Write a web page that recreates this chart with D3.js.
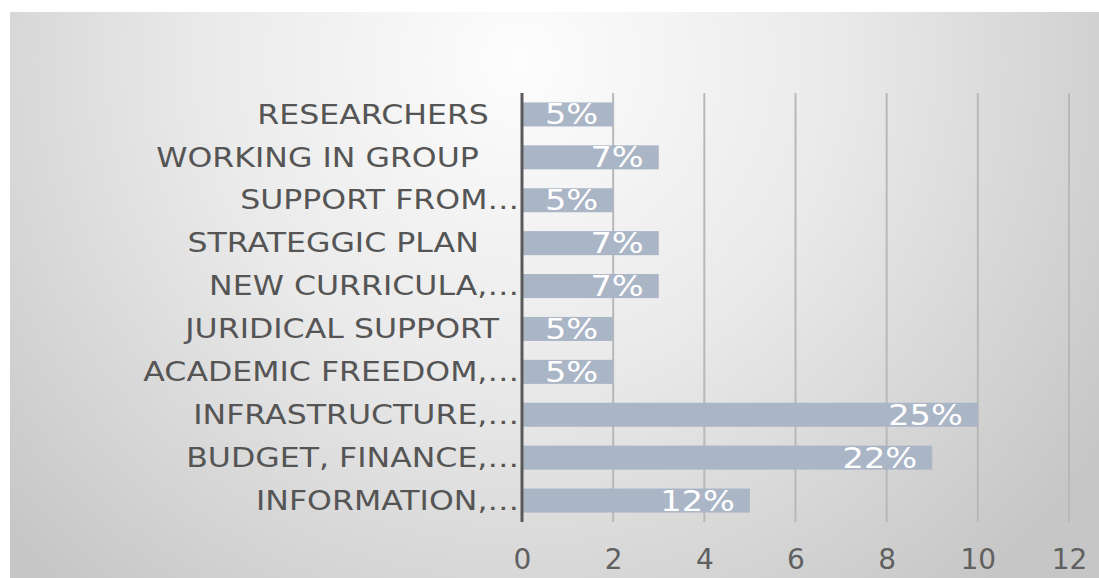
<!DOCTYPE html>
<html><head><meta charset="utf-8">
<script src="https://cdn.jsdelivr.net/npm/d3@7"></script>
<style>html,body{margin:0;padding:0;background:#fff;overflow:hidden}</style>
</head><body>
<svg id="chart" width="1099" height="578"></svg>
<script>
const NB = "\u00a0";
const categories = ["RESEARCHERS" + NB + NB + NB, "WORKING IN GROUP" + NB + NB + NB + NB, "SUPPORT FROM…", "STRATEGGIC PLAN" + NB + NB + NB + NB, "NEW CURRICULA,…", "JURIDICAL SUPPORT" + NB + NB, "ACADEMIC FREEDOM,…", "INFRASTRUCTURE,…", "BUDGET, FINANCE,…", "INFORMATION,…"];
const values = [2, 3, 2, 3, 3, 2, 2, 10, 9, 5];
const valueLabels = ["5%", "7%", "5%", "7%", "7%", "5%", "5%", "25%", "22%", "12%"];
const xTicks = [0, 2, 4, 6, 8, 10, 12];

const svg = d3.select("#chart");
const defs = svg.append("defs");
const rg = defs.append("radialGradient").attr("id","bg")
  .attr("gradientUnits","userSpaceOnUse").attr("cx",520).attr("cy",60).attr("r",700)
  .attr("fx",520).attr("fy",60);
rg.append("stop").attr("offset","0%").attr("stop-color","#fdfdfd");
rg.append("stop").attr("offset","45%").attr("stop-color","#eaeaea");
rg.append("stop").attr("offset","100%").attr("stop-color","#c6c6c6");
svg.append("rect").attr("x",10).attr("y",12).attr("width",1089).attr("height",566).attr("fill","url(#bg)");

const x = d3.scaleLinear().domain([0,12]).range([522,1069]);
const y = d3.scaleBand().domain(categories).range([93,522]).paddingInner(0.44).paddingOuter(0.22);

// gridlines
svg.append("g").selectAll("line").data(xTicks.filter(t=>t>0)).join("line")
  .attr("x1",d=>x(d)).attr("x2",d=>x(d)).attr("y1",93).attr("y2",522)
  .attr("stroke","#b8b8b8").attr("stroke-width",2);

// bars
svg.append("g").selectAll("rect").data(values).join("rect")
  .attr("x",x(0)).attr("y",(d,i)=>y(categories[i]))
  .attr("width",d=>x(d)-x(0)).attr("height",y.bandwidth())
  .attr("fill","#aab5c6");

// value labels
svg.append("g").selectAll("text").data(values).join("text")
  .attr("transform",(d,i)=>`translate(${x(d)-15},${y(categories[i])+y.bandwidth()/2}) scale(1.2,1)`)
  .attr("text-anchor","end").attr("dominant-baseline","central")
  .attr("font-family","DejaVu Sans, sans-serif").attr("font-size",28)
  .attr("fill","#ffffff").text((d,i)=>valueLabels[i]);

// vertical axis line
svg.append("line").attr("x1",x(0)).attr("x2",x(0)).attr("y1",93).attr("y2",522)
  .attr("stroke","#5a5a5a").attr("stroke-width",3);

// category labels
svg.append("g").selectAll("text").data(categories).join("text")
  .attr("transform",d=>`translate(519,${y(d)+y.bandwidth()/2}) scale(1.17,1)`)
  .attr("text-anchor","end").attr("dominant-baseline","central")
  .attr("font-family","DejaVu Sans, sans-serif").attr("font-size",27)
  .attr("fill","#555555").text(d=>d);

// x tick labels
const xAxis = d3.axisBottom(x).tickValues(xTicks).tickSize(0).tickPadding(0).tickFormat(d3.format("d"));
const gx = svg.append("g").attr("transform","translate(0,569)").call(xAxis);
gx.select(".domain").remove();
gx.selectAll("text").attr("font-family","DejaVu Sans, sans-serif").attr("font-size",28)
  .attr("fill","#606060").attr("dy","0");
</script>
</body></html>
